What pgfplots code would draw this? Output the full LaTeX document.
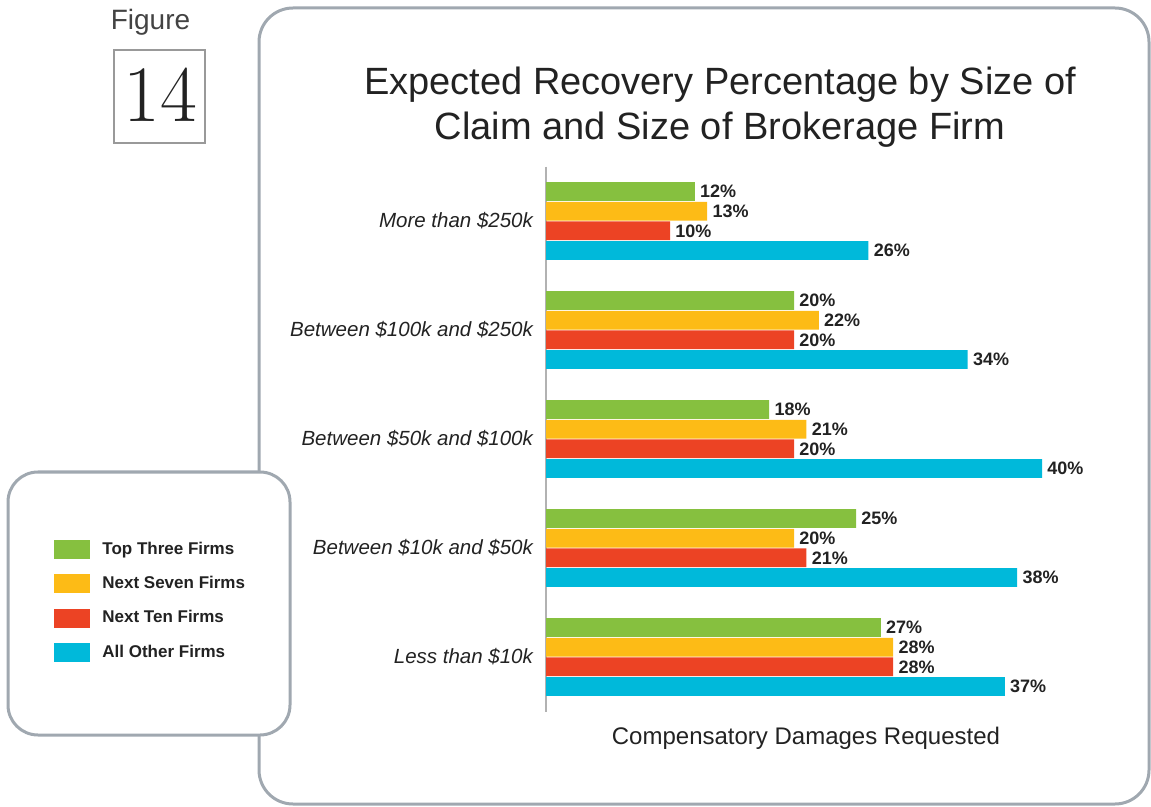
\documentclass[border=0pt]{standalone}
\usepackage{fontspec}
\usepackage{pgfplots}
\pgfplotsset{compat=1.18}
\newfontfamily\arial{Liberation Sans}
\definecolor{cgreen}{RGB}{134,192,63}
\definecolor{cyellow}{RGB}{253,187,22}
\definecolor{cred}{RGB}{236,67,36}
\definecolor{cblue}{RGB}{0,185,218}
\definecolor{boxgray}{RGB}{160,168,176}
\definecolor{txt}{RGB}{34,34,34}
\pgfplotsset{myleg/.style={legend image code/.code={\fill[##1] (0pt,-4.75pt) rectangle (18pt,4.75pt);}}}
\begin{document}
\begin{tikzpicture}
\path[use as bounding box] (0,0) rectangle (575.5pt,-403.5pt);
\draw[boxgray, line width=1.5pt, rounded corners=17pt] (129.5pt,-4pt) rectangle (574.5pt,-402pt);
\draw[boxgray, line width=1.5pt, rounded corners=15pt, fill=white] (4pt,-236pt) rectangle (145pt,-367.5pt);
\draw[gray!80, line width=1pt] (57pt,-25pt) rectangle (102.5pt,-71.5pt);
\node[anchor=base, font=\arial\fontsize{14}{14}\selectfont, text=txt!85] at (75.25pt,-15pt) {Figure};
\node[anchor=base, font=\fontsize{40}{40}\selectfont, text=txt] at (80pt,-61pt) {14};
\node[anchor=base, font=\arial\fontsize{19}{22}\selectfont, text=txt] at (360pt,-47.5pt) {Expected Recovery Percentage by Size of};
\node[anchor=base, font=\arial\fontsize{19}{22}\selectfont, text=txt] at (360pt,-70pt) {Claim and Size of Brokerage Firm};
\node[anchor=base, font=\arial\fontsize{12}{14}\selectfont, text=txt] at (403pt,-372pt) {Compensatory Damages Requested};
\coordinate (legpos) at (-246pt,-185.5pt);
\begin{axis}[
  at={(273pt,-83.25pt)}, anchor=north west,
  scale only axis, width=291.4pt, height=272.5pt,
  xmin=0, xmax=47, ymin=-0.5, ymax=4.5, y dir=reverse,
  axis x line=none, axis y line*=left,
  y axis line style={draw=gray!60, line width=0.8pt, -},
  ytick={0,1,2,3,4},
  yticklabels={More than \$250k, Between \$100k and \$250k, Between \$50k and \$100k, Between \$10k and \$50k, Less than \$10k},
  yticklabel style={font=\arial\itshape\fontsize{10.25}{12}\selectfont, text=txt, xshift=-3pt},
  major tick length=0pt,
  clip=false,
  xbar, bar width=0.172,
  point meta=x,
  /pgf/number format/assume math mode=true,
  nodes near coords={\pgfmathprintnumber{\pgfplotspointmeta}\%},
  nodes near coords style={font=\arial\bfseries\fontsize{9}{10}\selectfont, text=txt, anchor=west, inner sep=2.5pt},
  legend style={at={(legpos)}, anchor=north west, draw=none, fill=none, inner sep=0pt,
    font=\arial\bfseries\fontsize{8.5}{10}\selectfont, text=txt, row sep=5.5pt, column sep=4pt},
  legend cell align=left,
]
\addplot[fill=cgreen, draw=none, bar shift=-0.27, myleg] coordinates {(12,0) (20,1) (18,2) (25,3) (27,4)};
\addplot[fill=cyellow, draw=none, bar shift=-0.09, myleg] coordinates {(13,0) (22,1) (21,2) (20,3) (28,4)};
\addplot[fill=cred, draw=none, bar shift=0.09, myleg] coordinates {(10,0) (20,1) (20,2) (21,3) (28,4)};
\addplot[fill=cblue, draw=none, bar shift=0.27, myleg] coordinates {(26,0) (34,1) (40,2) (38,3) (37,4)};
\legend{Top Three Firms, Next Seven Firms, Next Ten Firms, All Other Firms}
\end{axis}
\end{tikzpicture}
\end{document}
